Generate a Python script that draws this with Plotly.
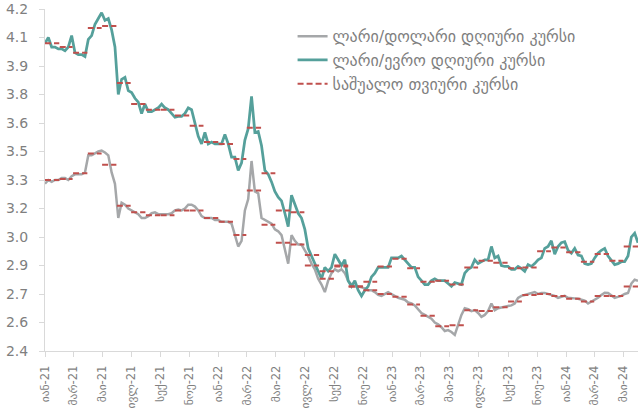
import pandas as pd
import plotly.graph_objects as go

# ---------------- data ----------------
week_start = "2021-01-01"
week_end = "2024-05-31"

usd_daily = [
    3.28, 3.30, 3.29, 3.30, 3.30, 3.31, 3.31, 3.30, 3.32, 3.33,
    3.33, 3.33, 3.34, 3.43, 3.43, 3.44, 3.45, 3.455, 3.445, 3.43,
    3.34, 3.28, 3.10, 3.18, 3.17, 3.15, 3.14, 3.13, 3.12, 3.10,
    3.10, 3.11, 3.125, 3.13, 3.12, 3.12, 3.12, 3.12, 3.125, 3.14,
    3.145, 3.14, 3.15, 3.17, 3.17, 3.16, 3.14, 3.11, 3.10, 3.10,
    3.10, 3.09, 3.09, 3.08, 3.08, 3.08, 3.07, 3.01, 2.95, 2.98,
    3.14, 3.20, 3.40, 3.24, 3.23, 3.10, 3.09, 3.08, 3.07, 3.04,
    3.03, 3.01, 2.94, 2.86, 3.01, 2.98, 2.96, 2.96, 2.93, 2.90,
    2.86, 2.83, 2.78, 2.75, 2.71, 2.77, 2.81, 2.83, 2.82, 2.83,
    2.81, 2.77, 2.75, 2.74, 2.74, 2.735, 2.73, 2.72, 2.72, 2.71,
    2.695, 2.69, 2.70, 2.71, 2.70, 2.69, 2.68, 2.675, 2.67, 2.655,
    2.65, 2.64, 2.62, 2.60, 2.59, 2.58, 2.57, 2.55, 2.54, 2.525,
    2.505, 2.51, 2.50, 2.485, 2.54, 2.59, 2.625, 2.62, 2.61, 2.615,
    2.60, 2.58, 2.59, 2.61, 2.65, 2.615, 2.625, 2.63, 2.633, 2.637,
    2.64, 2.65, 2.68, 2.69, 2.695, 2.70, 2.705, 2.71, 2.70, 2.705,
    2.705, 2.70, 2.695, 2.69, 2.68, 2.685, 2.69, 2.68, 2.68, 2.677,
    2.675, 2.67, 2.665, 2.65, 2.66, 2.67, 2.68, 2.695, 2.707, 2.705,
    2.69, 2.68, 2.685, 2.69, 2.70, 2.705, 2.755, 2.775, 2.77,
]

eur_daily = [
    4.02, 4.05, 4.00, 4.00, 3.99, 3.99, 3.98, 4.00, 4.06, 3.97,
    3.96, 3.96, 3.95, 4.04, 4.06, 4.12, 4.15, 4.18, 4.14, 4.15,
    4.09, 4.00, 3.75, 3.83, 3.84, 3.77, 3.76, 3.73, 3.71, 3.65,
    3.70, 3.66, 3.66, 3.67, 3.68, 3.70, 3.68, 3.67, 3.65, 3.63,
    3.635, 3.635, 3.65, 3.68, 3.67, 3.60, 3.53, 3.49, 3.55, 3.49,
    3.50, 3.49, 3.49, 3.49, 3.54, 3.49, 3.42, 3.42, 3.35, 3.39,
    3.51, 3.57, 3.74, 3.55, 3.555, 3.48, 3.35, 3.33, 3.29, 3.24,
    3.21, 3.19, 3.125, 3.055, 3.22, 3.17, 3.125, 3.10, 3.04, 2.94,
    2.90, 2.86, 2.82, 2.78, 2.84, 2.82, 2.84, 2.91, 2.88, 2.85,
    2.88, 2.77, 2.74, 2.77, 2.72, 2.69, 2.72, 2.74, 2.79, 2.81,
    2.84, 2.84, 2.84, 2.84, 2.89, 2.89, 2.89, 2.90, 2.88, 2.86,
    2.84, 2.84, 2.79, 2.77, 2.75, 2.75, 2.77, 2.78, 2.77, 2.77,
    2.77, 2.755, 2.74, 2.76, 2.755, 2.75, 2.81, 2.83, 2.84, 2.88,
    2.86, 2.87, 2.88, 2.88, 2.95, 2.89, 2.90, 2.85, 2.845, 2.845,
    2.83, 2.83, 2.845, 2.835, 2.82, 2.855, 2.845, 2.86, 2.88, 2.89,
    2.94, 2.95, 2.98, 2.91, 2.95, 2.97, 2.975, 2.93, 2.915, 2.94,
    2.905, 2.90, 2.86, 2.855, 2.86, 2.89, 2.915, 2.93, 2.94, 2.90,
    2.88, 2.855, 2.86, 2.87, 2.87, 2.90, 3.00, 3.02, 2.97,
]

month_start = "2021-01-01"
usd_monthly = [
    3.30, 3.305, 3.335, 3.44, 3.38, 3.165, 3.13, 3.115, 3.115, 3.14, 3.14, 3.10,
    3.08, 3.01, 3.245, 3.065, 2.97, 2.96, 2.85, 2.78, 2.85, 2.74, 2.72, 2.70,
    2.685, 2.645, 2.585, 2.53, 2.535, 2.615, 2.61, 2.63, 2.66, 2.695, 2.70, 2.69,
    2.675, 2.66, 2.69, 2.69, 2.74,
]
eur_monthly = [
    4.02, 4.00, 3.97, 4.10, 4.11, 3.81, 3.70, 3.67, 3.67, 3.64, 3.585, 3.50,
    3.49, 3.41, 3.575, 3.335, 3.14, 3.13, 2.905, 2.82, 2.845, 2.74, 2.765, 2.845,
    2.885, 2.835, 2.765, 2.77, 2.75, 2.84, 2.875, 2.865, 2.835, 2.84, 2.925, 2.945,
    2.92, 2.87, 2.91, 2.875, 2.95,
]

x_tick_dates = pd.date_range("2021-01-01", "2024-05-01", freq="2MS")
x_tick_text = [
    "იან-21", "მარ-21", "მაი-21", "ივლ-21", "სექ-21", "ნოე-21",
    "იან-22", "მარ-22", "მაი-22", "ივლ-22", "სექ-22", "ნოე-22",
    "იან-23", "მარ-23", "მაი-23", "ივლ-23", "სექ-23", "ნოე-23",
    "იან-24", "მარ-24", "მაი-24",
]
y_tick_vals = [2.40, 2.55, 2.70, 2.85, 3.00, 3.15, 3.30, 3.45, 3.60, 3.75, 3.90, 4.05, 4.20]
y_tick_text = ["2.4", "2.6", "2.7", "2.9", "3.0", "3.2", "3.3", "3.5", "3.6", "3.8", "3.9", "4.1", "4.2"]

names = ["ლარი/დოლარი დღიური კურსი", "ლარი/ევრო დღიური კურსი", "საშუალო თვიური კურსი"]

# ---------------- build ----------------
dates = pd.date_range(week_start, week_end, freq="7D")
assert len(dates) == len(usd_daily) == len(eur_daily)

months = pd.date_range(month_start, periods=len(usd_monthly), freq="MS")
avg_x, avg_y = [], []
for series in (usd_monthly, eur_monthly):
    for m, v in zip(months, series):
        last = m + pd.offsets.MonthEnd(0)
        avg_x += [m, last, None]
        avg_y += [v, v, None]

GRAY = "#A5A7A9"
TEAL = "#55A09B"
RED = "#C0504D"
TXT = "#7F7F7F"
FONT = "DejaVu Sans, sans-serif"

fig = go.Figure()
fig.add_trace(go.Scatter(x=dates, y=usd_daily, mode="lines", name=names[0],
                         line=dict(color=GRAY, width=2.5)))
fig.add_trace(go.Scatter(x=dates, y=eur_daily, mode="lines", name=names[1],
                         line=dict(color=TEAL, width=2.75)))
fig.add_trace(go.Scatter(x=avg_x, y=avg_y, mode="lines", name=names[2],
                         connectgaps=False,
                         line=dict(color=RED, width=2, dash="6px,3px")))

fig.update_layout(
    width=638, height=409,
    margin=dict(l=45, r=0, t=9, b=58),
    paper_bgcolor="white", plot_bgcolor="white",
    font=dict(family=FONT, size=13, color=TXT),
    showlegend=True,
    legend=dict(x=0.4175, y=0.97, xanchor="left", yanchor="top",
                bgcolor="rgba(0,0,0,0)", font=dict(size=16, color=TXT)),
)
fig.update_xaxes(
    type="date", range=[dates[0], dates[-1]],
    tickvals=x_tick_dates, ticktext=x_tick_text, tickangle=-90,
    showgrid=False, showline=True, linecolor="#D9D9D9", linewidth=1,
    ticks="outside", ticklen=5, tickcolor="#D9D9D9",
    tickfont=dict(size=11.5, color=TXT), zeroline=False,
    ticklabelstandoff=4, ticklabeloverflow="allow", automargin=False,
)
fig.update_yaxes(
    range=[2.4, 4.2], tickvals=y_tick_vals, ticktext=y_tick_text,
    showgrid=False, showline=True, linecolor="#D9D9D9", linewidth=1,
    ticks="outside", ticklen=5, tickcolor="#D9D9D9",
    tickfont=dict(size=14, color=TXT), zeroline=False,
    ticklabelstandoff=8, ticklabeloverflow="allow", automargin=False,
)

fig.write_html(
    "out.html",
    config={"displayModeBar": False},
    post_script="document.body.style.margin='0';document.body.style.overflow='hidden';",
)
